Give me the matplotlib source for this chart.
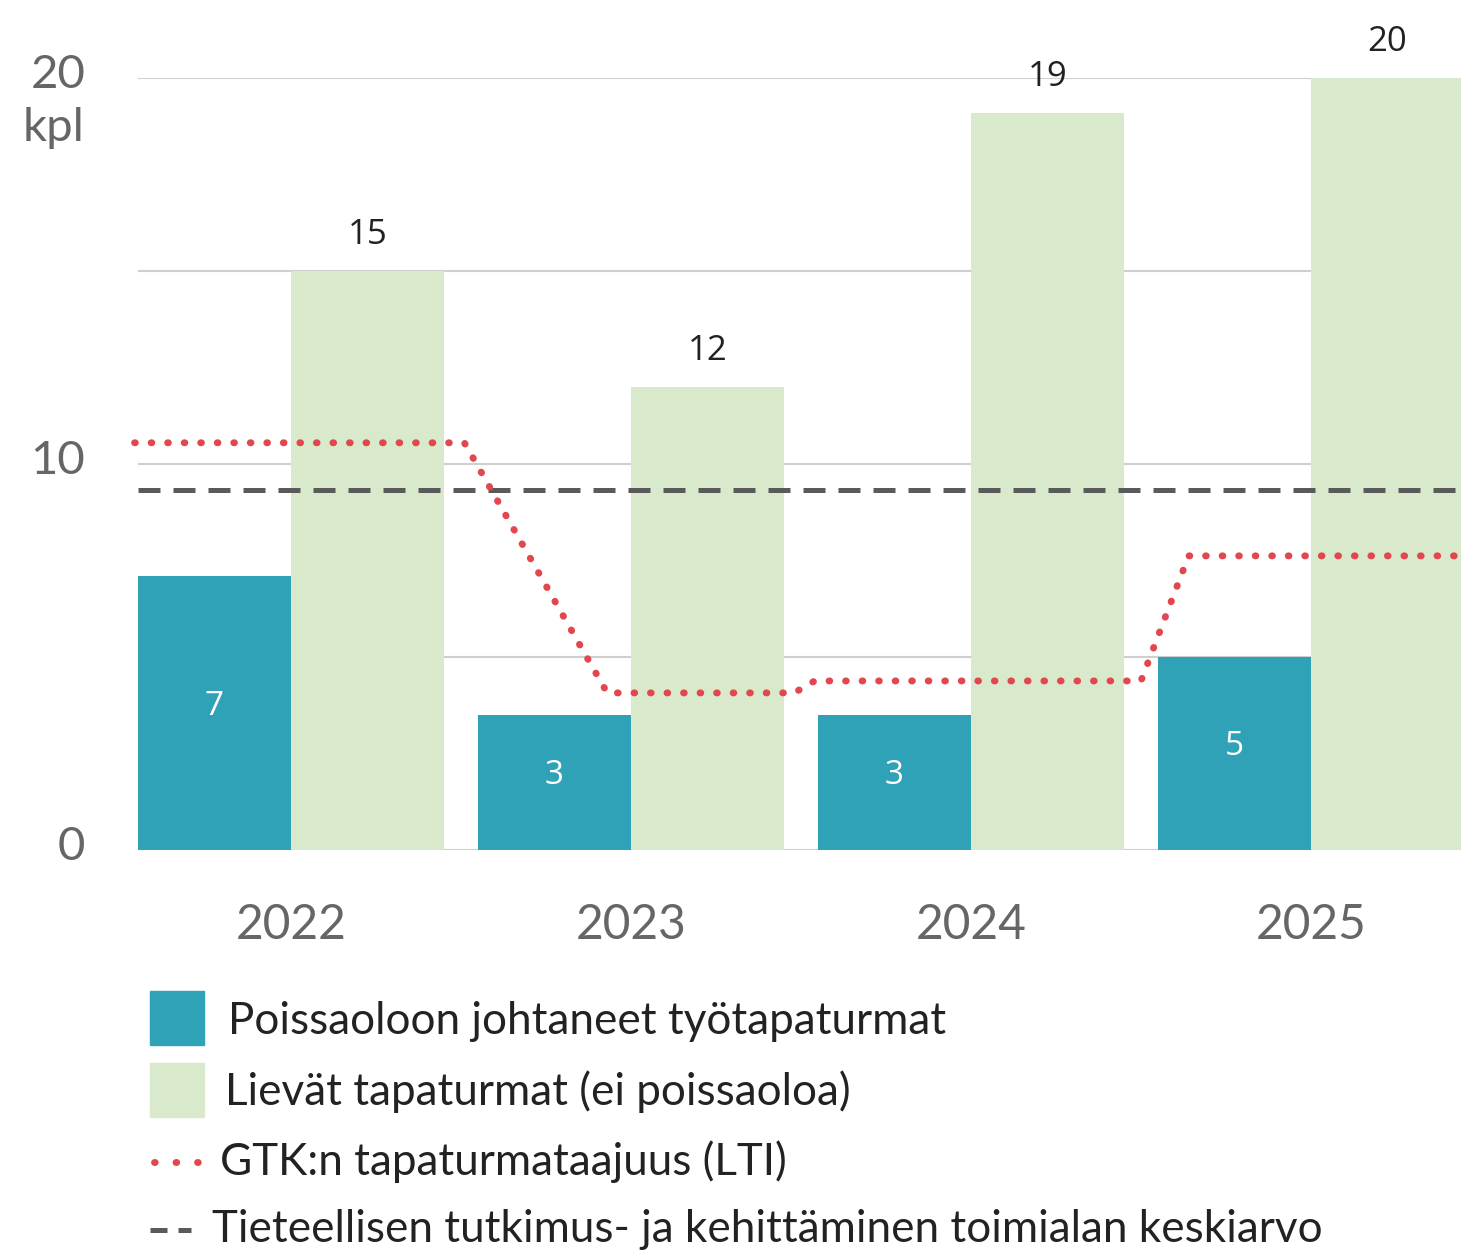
import numpy as np
import matplotlib
matplotlib.use("Agg")
import matplotlib.pyplot as plt
from matplotlib.patches import Rectangle
from matplotlib.lines import Line2D
from matplotlib.transforms import ScaledTranslation

# ---- data ----
years = ["2022", "2023", "2024", "2025"]
lost_time = [7.1, 3.5, 3.5, 5.0]          # drawn bar heights
lost_time_labels = ["7", "3", "3", "5"]
minor = [15, 12, 19.1, 20]
minor_labels = ["15", "12", "19", "20"]
lti_x = [-0.46, 0.51, 0.93, 1.48, 1.54, 2.50, 2.64, 3.45]
lti_y = [10.55, 10.55, 4.07, 4.07, 4.38, 4.38, 7.62, 7.62]
industry_avg = 9.33
yticks = [0, 10, 20]
legend_labels = ["Poissaoloon johtaneet työtapaturmat",
                 "Lievät tapaturmat (ei poissaoloa)",
                 "GTK:n tapaturmataajuus (LTI)",
                 "Tieteellisen tutkimus- ja kehittäminen toimialan keskiarvo"]

BLUE = "#30A2B8"
GREEN = "#D8EACB"
RED = "#E2474F"
DGRAY = "#5A5A5A"
FONT = "Lato"

W, H = 1461, 1251
fig = plt.figure(figsize=(W / 100, H / 100), dpi=100)
ax = fig.add_axes([138 / W, 1 - 850 / H, (W - 138) / W, (850 - 78) / H])

x = np.arange(len(years))
bw = 0.45
ax.set_xlim(-0.45, -0.45 + (W - 138) / 340)
ax.set_ylim(0, 20)

# grid
for g in [0, 5, 10, 15, 20]:
    ax.axhline(g, color="#CFCFCF", lw=1.5, zorder=0)

b1 = ax.bar(x - bw / 2, lost_time, width=bw, color=BLUE, zorder=2)
b2 = ax.bar(x + bw / 2, minor, width=bw, color=GREEN, zorder=2)

for xi, v, lab in zip(x, lost_time, lost_time_labels):
    ax.annotate(lab, (xi - bw / 2, v / 2), xytext=(0, 5), textcoords="offset points",
                ha="center", va="center", color="white", fontsize=24, family="Open Sans", zorder=5)
for xi, v, lab in zip(x, minor, minor_labels):
    ax.annotate(lab, (xi + bw / 2, v), xytext=(0, 26), textcoords="offset points",
                ha="center", va="center", color="#222222", fontsize=25, family="Open Sans",
                zorder=5, annotation_clip=False)

DOTS = (0, (0.1, 2.28))
ax.axhline(industry_avg, color=DGRAY, lw=3.6, linestyle=(0, (4.4, 2.6)),
           dash_capstyle="butt", zorder=3)
ax.plot(lti_x, lti_y, color=RED, lw=5.0, linestyle=DOTS,
        dash_capstyle="round", zorder=4, clip_on=False)

for s in ax.spines.values():
    s.set_visible(False)
ax.tick_params(length=0)
ax.set_xticks(x)
ax.set_xticklabels(years, fontsize=34.5, color="#666666", family=FONT)
ax.tick_params(axis="x", pad=38)
ax.set_yticks(yticks)
ax.set_yticklabels([str(t) for t in yticks], fontsize=34, color="#666666", family=FONT)
ax.tick_params(axis="y", pad=38)
for lab in ax.get_yticklabels():
    lab.set_transform(lab.get_transform() + ScaledTranslation(0, 0.07, fig.dpi_scale_trans))
fig.text(85 / W, 1 - 128 / H, "kpl", ha="right", va="center", fontsize=34,
         color="#666666", family=FONT)

# ---- legend (manual) ----
ty = [1022, 1092, 1162, 1230]
fig.add_artist(Rectangle((150 / W, 1 - 1045 / H), 54 / W, 54 / H, color=BLUE,
                         transform=fig.transFigure))
fig.add_artist(Rectangle((150 / W, 1 - 1117 / H), 54 / W, 54 / H, color=GREEN,
                         transform=fig.transFigure))
fig.add_artist(Line2D([154 / W, 198 / W], [1 - 1162 / H] * 2, color=RED, lw=5.0,
                      linestyle=(0, (0.1, 3.0)), dash_capstyle="round",
                      transform=fig.transFigure))
fig.add_artist(Line2D([150 / W, 191 / W], [1 - 1230 / H] * 2, color=DGRAY, lw=3.6,
                      linestyle=(0, (3.4, 2.2)), transform=fig.transFigure))
tx = [228, 225, 220, 212]
for xx, yy, lab in zip(tx, ty, legend_labels):
    fig.text(xx / W, 1 - yy / H, lab, ha="left", va="center", fontsize=31.7,
             color="#222222", family=FONT)

fig.savefig("out.png", dpi=100)
